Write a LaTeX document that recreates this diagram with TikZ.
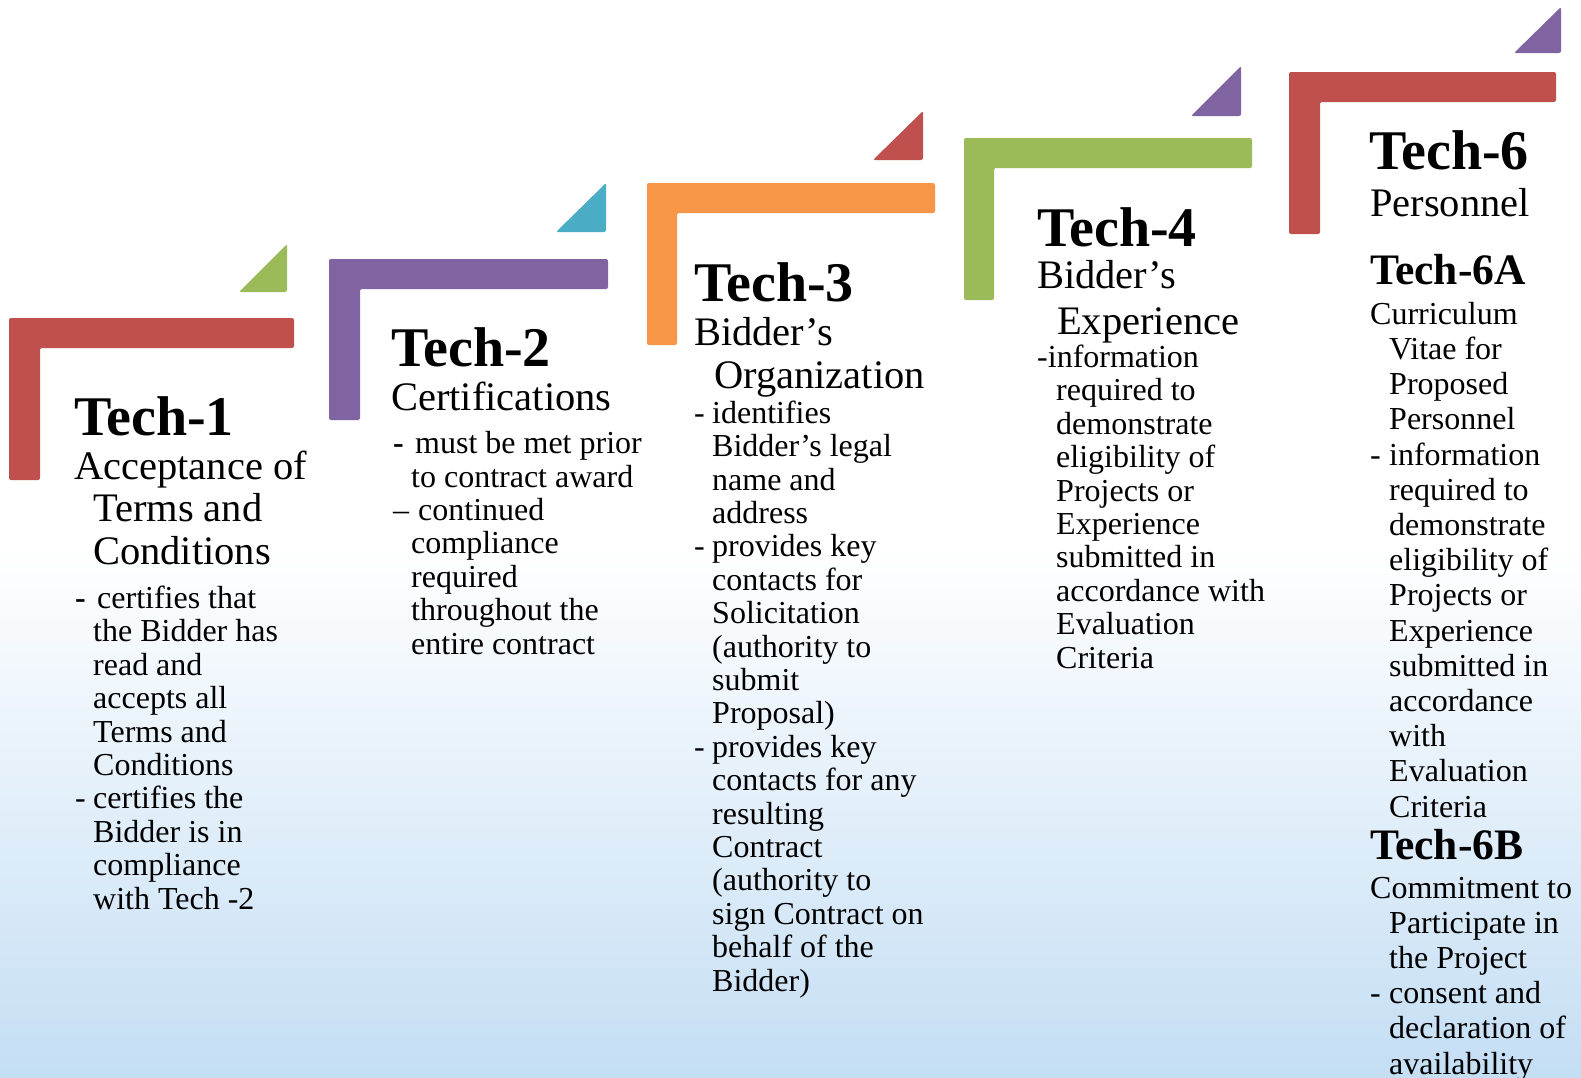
\documentclass[tikz,border=0pt]{standalone}
\usepackage{fontspec}
\setmainfont{Liberation Serif}
\usepackage{tikz}
\definecolor{barred}{HTML}{C0504D}
\definecolor{bargreen}{HTML}{9BBB59}
\definecolor{barpurple}{HTML}{8064A2}
\definecolor{barblue}{HTML}{4BACC6}
\definecolor{barorange}{HTML}{F79646}
\definecolor{bgblue}{HTML}{C4DEF4}

\begin{document}
\begin{tikzpicture}[
  x=1pt, y=-1pt,
  stepbar/.style={rounded corners=2pt},
  steptip/.style={rounded corners=2pt},
  headtext/.style={anchor=base west, inner sep=0pt, font=\bfseries\fontsize{56}{60}\selectfont},
  subhead/.style={anchor=base west, inner sep=0pt, font=\bfseries\fontsize{43.5}{46}\selectfont},
  % multi-line texts sit on the baseline of their last line
  titletext/.style={anchor=base west, inner sep=0pt, align=left, font=\fontsize{40.5}{42.5}\selectfont},
  bodytext/.style={anchor=base west, inner sep=0pt, align=left, font=\fontsize{32}{33.4}\selectfont}
]
\useasboundingbox (0,0) rectangle (1581,1077);
\fill[white] (0,0) rectangle (1581,1077);
\shade[top color=white, bottom color=bgblue] (0,550) rectangle (1581,1077);

% steps: L-shaped bar and corner triangle
\fill[stepbar, barred] (9,318) -- (294,318) -- (294,348) -- (40,348) -- (40,480) -- (9,480) -- cycle;
\fill[steptip, bargreen] (239,292) -- (287,292) -- (287,244) -- cycle;

\fill[stepbar, barpurple] (329,259) -- (608,259) -- (608,289) -- (360,289) -- (360,420) -- (329,420) -- cycle;
\fill[steptip, barblue] (556,232) -- (606,232) -- (606,183) -- cycle;

\fill[stepbar, barorange] (647,183) -- (935,183) -- (935,213) -- (677,213) -- (677,345) -- (647,345) -- cycle;
\fill[steptip, barred] (873,160) -- (923,160) -- (923,111) -- cycle;

\fill[stepbar, bargreen] (964,138) -- (1252,138) -- (1252,168) -- (994,168) -- (994,300) -- (964,300) -- cycle;
\fill[steptip, barpurple] (1191,116) -- (1241,116) -- (1241,66) -- cycle;

\fill[stepbar, barred] (1289,72) -- (1556,72) -- (1556,102) -- (1320,102) -- (1320,234) -- (1289,234) -- cycle;
\fill[steptip, barpurple] (1514,53) -- (1561,53) -- (1561,7) -- cycle;

% Tech-1
\node[headtext] (t1) at (74,435) {Tech-1};
\node[titletext] (t1name) at (74,564) {Acceptance of\\\hspace*{19pt}Terms and\\\hspace*{19pt}Conditions};
\node[bodytext] (t1body) at (75,909) {\makebox[22pt][l]{\textbf{-}}certifies that\\
  \hspace*{18pt}the Bidder has\\
  \hspace*{18pt}read and\\
  \hspace*{18pt}accepts all\\
  \hspace*{18pt}Terms and\\
  \hspace*{18pt}Conditions\\
  \makebox[18pt][l]{-}certifies the\\
  \hspace*{18pt}Bidder is in\\
  \hspace*{18pt}compliance\\
  \hspace*{18pt}with Tech -2};

% Tech-2
\node[headtext] (t2) at (391,366) {Tech-2};
\node[titletext] (t2name) at (391,410) {Certifications};
\node[bodytext] (t2body) at (393,654) {\makebox[22pt][l]{\textbf{-}}must be met prior\\
  \hspace*{18pt}to contract award\\
  \makebox[25pt][l]{--}continued\\
  \hspace*{18pt}compliance\\
  \hspace*{18pt}required\\
  \hspace*{18pt}throughout the\\
  \hspace*{18pt}entire contract};

% Tech-3
\node[headtext] (t3) at (694,301) {Tech-3};
\node[titletext] (t3name) at (694,388) {Bidder’s\\\hspace*{20pt}Organization};
\node[bodytext] (t3body) at (694,991) {\makebox[18pt][l]{-}identifies\\
  \hspace*{18pt}Bidder’s legal\\
  \hspace*{18pt}name and\\
  \hspace*{18pt}address\\
  \makebox[18pt][l]{-}provides key\\
  \hspace*{18pt}contacts for\\
  \hspace*{18pt}Solicitation\\
  \hspace*{18pt}(authority to\\
  \hspace*{18pt}submit\\
  \hspace*{18pt}Proposal)\\
  \makebox[18pt][l]{-}provides key\\
  \hspace*{18pt}contacts for any\\
  \hspace*{18pt}resulting\\
  \hspace*{18pt}Contract\\
  \hspace*{18pt}(authority to\\
  \hspace*{18pt}sign Contract on\\
  \hspace*{18pt}behalf of the\\
  \hspace*{18pt}Bidder)};

% Tech-4
\node[headtext] (t4) at (1037,246) {Tech-4};
\node[titletext] (t4name) at (1037,334) {Bidder’s\\[3pt]\hspace*{20pt}Experience};
\node[bodytext] (t4body) at (1037,668) {-information\\
  \hspace*{19pt}required to\\
  \hspace*{19pt}demonstrate\\
  \hspace*{19pt}eligibility of\\
  \hspace*{19pt}Projects or\\
  \hspace*{19pt}Experience\\
  \hspace*{19pt}submitted in\\
  \hspace*{19pt}accordance with\\
  \hspace*{19pt}Evaluation\\
  \hspace*{19pt}Criteria};

% Tech-6 with its two parts
\node[headtext] (t6) at (1369,169) {Tech-6};
\node[titletext] (t6name) at (1370,216) {Personnel};
\node[subhead] (t6a) at (1370,284) {Tech-6A};
\node[bodytext, font=\fontsize{32}{35.2}\selectfont] (t6abody) at (1370,817) {Curriculum\\
  \hspace*{19pt}Vitae for\\
  \hspace*{19pt}Proposed\\
  \hspace*{19pt}Personnel\\
  \makebox[19pt][l]{-}information\\
  \hspace*{19pt}required to\\
  \hspace*{19pt}demonstrate\\
  \hspace*{19pt}eligibility of\\
  \hspace*{19pt}Projects or\\
  \hspace*{19pt}Experience\\
  \hspace*{19pt}submitted in\\
  \hspace*{19pt}accordance\\
  \hspace*{19pt}with\\
  \hspace*{19pt}Evaluation\\
  \hspace*{19pt}Criteria};
\node[subhead] (t6b) at (1370,859) {Tech-6B};
\node[bodytext, font=\fontsize{32}{35.2}\selectfont] (t6bbody) at (1370,1074) {Commitment to\\
  \hspace*{19pt}Participate in\\
  \hspace*{19pt}the Project\\
  \makebox[19pt][l]{-}consent and\\
  \hspace*{19pt}declaration of\\
  \hspace*{19pt}availability};
\end{tikzpicture}
\end{document}
